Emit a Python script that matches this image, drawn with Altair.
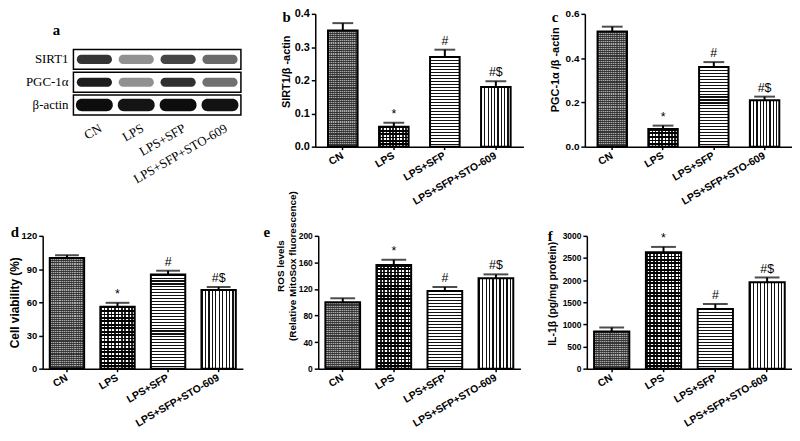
import json
import altair as alt
import pandas as pd

# ---------------- data ----------------
groups = ["CN", "LPS", "LPS+SFP", "LPS+SFP+STO-609"]
sig = ["", "*", "#", "#$"]

sirt1_mean = [0.35, 0.06, 0.27, 0.18]
sirt1_err = [0.022, 0.012, 0.022, 0.017]
pgc_mean = [0.52, 0.08, 0.36, 0.21]
pgc_err = [0.022, 0.015, 0.022, 0.016]
viab_mean = [100, 56, 85, 71]
viab_err = [2.5, 3.5, 3.5, 2.8]
ros_mean = [100, 156, 117, 136]
ros_err = [6, 8, 6, 6]
il_mean = [840, 2630, 1350, 1950]
il_err = [90, 120, 110, 110]

blot_proteins = ["SIRT1", "PGC-1α", "β-actin"]
blot_sirt1 = [0.80, 0.38, 0.72, 0.55]
blot_pgc = [0.92, 0.38, 0.82, 0.52]
blot_actin = [1.00, 0.97, 1.00, 0.98]

SANS = "Liberation Sans"
SERIF = "Liberation Serif"


# ---------------- helpers ----------------
def stripes(n, c_a, c_b, frac, vertical_stripes):
    stops = []
    for i in range(n):
        a0 = i / n
        a1 = (i + frac) / n
        b1 = (i + 1) / n
        stops += [
            {"offset": a0, "color": c_a},
            {"offset": a1, "color": c_a},
            {"offset": a1, "color": c_b},
            {"offset": b1, "color": c_b},
        ]
    g = {"gradient": "linear", "stops": stops}
    if vertical_stripes:
        g.update({"x1": 0, "y1": 0, "x2": 1, "y2": 0})
    else:
        g.update({"x1": 0, "y1": 0, "x2": 0, "y2": 1})
    return g


def bar_fills(idx, h_px, bar_w):
    """return (base_fill, overlay_fill) for category index"""
    nh = max(2, round(h_px / 3.0))
    nv = max(2, round(bar_w / 3.4))
    if idx == 0:
        base = stripes(max(2, round(h_px / 2.2)), "#3c3c3c", "#a8a8a8", 0.5, False)
        over = stripes(round(bar_w / 2.2), "rgba(40,40,40,0.55)", "rgba(0,0,0,0)", 0.5, True)
    elif idx == 1:
        base = stripes(max(2, round(h_px / 3.4)), "#000000", "#ffffff", 0.5, False)
        over = stripes(nv, "rgba(0,0,0,0.85)", "rgba(0,0,0,0)", 0.5, True)
    elif idx == 2:
        base = stripes(nh, "#111111", "#ffffff", 0.38, False)
        over = "transparent"
    else:
        base = stripes(nv, "#111111", "#ffffff", 0.35, True)
        over = "transparent"
    return base, over


def bar_panel(letter, means, errs, ymax, ticks, fmt, title, width, height,
              letter_x, letter_y, title_pad, label_size, title_size, title_y=None,
              pad_inner=0.42, pad_outer=0.25):
    df = pd.DataFrame({
        "group": groups,
        "mean": means,
        "err": errs,
        "sig": sig,
    })
    df["top"] = df["mean"] + df["err"]

    step = width / (4 - pad_inner + 2 * pad_outer)
    bar_w = step * (1 - pad_inner)

    xenc = alt.X(
        "group:N",
        sort=groups,
        scale=alt.Scale(domain=groups, paddingInner=pad_inner, paddingOuter=pad_outer),
        axis=alt.Axis(
            title=None, labelAngle=-30, labelAlign="right", labelBaseline="middle",
            labelPadding=5, tickSize=3, labelFontSize=10.5, labelOverlap=False,
        ),
    )
    ax_kw = dict(
        title=title, values=ticks, format=fmt, grid=False, tickSize=4,
        titlePadding=title_pad, titleFontSize=title_size, labelFontSize=label_size,
        labelPadding=2,
    )
    if title_y is not None:
        ax_kw["titleY"] = title_y
    yaxis = alt.Axis(**ax_kw)
    yscale = alt.Scale(domain=[0, ymax], nice=False, zero=True)

    base = alt.Chart(df).encode(x=xenc)
    layers = []
    for i, g in enumerate(groups):
        h_px = means[i] / ymax * height
        fill_a, fill_b = bar_fills(i, h_px, bar_w)
        sub = base.transform_filter(alt.datum.group == g)
        layers.append(
            sub.mark_bar(fill=fill_a, strokeWidth=0).encode(
                y=alt.Y("mean:Q", scale=yscale, axis=yaxis)
            )
        )
        layers.append(
            sub.mark_bar(fill=fill_b, stroke="black", strokeWidth=2).encode(
                y=alt.Y("mean:Q", scale=yscale, axis=yaxis)
            )
        )
    layers.append(
        base.mark_rule(color="black", strokeWidth=2).encode(
            y=alt.Y("mean:Q", scale=yscale, axis=yaxis), y2="top:Q"
        )
    )
    layers.append(
        base.mark_tick(color="black", thickness=2, size=round(bar_w * 0.7), orient="horizontal").encode(
            y=alt.Y("top:Q", scale=yscale, axis=yaxis)
        )
    )
    layers.append(
        base.transform_filter(alt.datum.sig != "").mark_text(
            font=SANS, fontSize=12.5, baseline="bottom", dy=-2, color="black"
        ).encode(
            y=alt.Y("top:Q", scale=yscale, axis=yaxis), text="sig:N"
        )
    )
    lab = alt.Chart(pd.DataFrame({"t": [letter]})).mark_text(
        font=SERIF, fontWeight="bold", fontSize=15, align="center", baseline="middle"
    ).encode(text="t:N", x=alt.value(letter_x), y=alt.value(letter_y))
    layers.append(lab)
    return alt.layer(*layers).properties(width=width, height=height)


# ---------------- panel a (blot) ----------------
rows = []
for r, (p, vals) in enumerate(zip(blot_proteins, [blot_sirt1, blot_pgc, blot_actin])):
    for l, v in enumerate(vals):
        rows.append({"protein": p, "row": r, "lane": l, "group": groups[l], "intensity": v})
blot = pd.DataFrame(rows)

A_W, A_H = 200, 102
xs_a = alt.Scale(domain=[-1.234, 3.5], nice=False, zero=False)
ys_a = alt.Scale(domain=[-2.0, 2.435], nice=False, zero=False, reverse=True)
label_expr = json.dumps(groups) + "[datum.value]"

a_base = alt.Chart(blot)
boxes = a_base.transform_aggregate(
    lo="min(lane)", hi="max(lane)", groupby=["row", "protein"]
).transform_calculate(
    x0="datum.lo - 0.5", x1="datum.hi + 0.5", y0="datum.row - 0.435", y1="datum.row + 0.435"
)
box_layer = boxes.mark_rect(fill="white", stroke="black", strokeWidth=1.5).encode(
    x=alt.X("x0:Q", scale=xs_a,
            axis=alt.Axis(values=[0, 1, 2, 3], labelExpr=label_expr, title=None, domain=False,
                          ticks=False, grid=False, labelAngle=-30, labelAlign="right",
                          labelBaseline="middle", labelFont=SERIF, labelFontWeight="normal",
                          labelFontSize=13, labelPadding=12, labelOffset=6,
                          labelOverlap=False, labelBound=False)),
    x2="x1:Q",
    y=alt.Y("y0:Q", scale=ys_a, axis=None),
    y2="y1:Q",
)
row_labels = boxes.mark_text(font=SERIF, fontSize=13, align="right", baseline="middle", dx=-5).encode(
    x=alt.X("x0:Q", scale=xs_a), y=alt.Y("row:Q", scale=ys_a), text="protein:N"
)
bands = a_base.transform_calculate(
    hh="datum.row == 2 ? 0.27 : 0.2",
    hw="datum.row == 2 ? 0.44 : 0.42",
).transform_calculate(
    bx0="datum.lane - datum.hw", bx1="datum.lane + datum.hw",
    by0="datum.row - datum.hh", by1="datum.row + datum.hh",
).mark_rect(cornerRadius=6).encode(
    x=alt.X("bx0:Q", scale=xs_a), x2="bx1:Q",
    y=alt.Y("by0:Q", scale=ys_a), y2="by1:Q",
    color=alt.Color("intensity:Q", scale=alt.Scale(domain=[0, 1], range=["#f0f0f0", "#0d0d0d"]), legend=None),
)
a_letter = alt.Chart(pd.DataFrame({"t": ["a"]})).mark_text(
    font=SERIF, fontWeight="bold", fontSize=15
).encode(text="t:N", x=alt.value(14), y=alt.value(16))
panel_a = alt.layer(box_layer, bands, row_labels, a_letter).properties(width=A_W, height=A_H)

# ---------------- bar panels ----------------
panel_b = bar_panel("b", sirt1_mean, sirt1_err, 0.4, [0, 0.1, 0.2, 0.3, 0.4], ".1f",
                    "SIRT1/β -actin", 210, 134, -29, 3, 3, 11, 11, 58)
panel_c = bar_panel("c", pgc_mean, pgc_err, 0.6, [0, 0.2, 0.4, 0.6], ".1f",
                    "PGC-1α /β -actin", 209, 134, -30, 3, 4.5, 10, 11, 56)
panel_d = bar_panel("d", viab_mean, viab_err, 120, [0, 30, 60, 90, 120], "d",
                    "Cell viability (%)", 202, 134, -28, -4, 0, 9.5, 12,
                    None, 0.32, 0.14)
panel_e = bar_panel("e", ros_mean, ros_err, 200, [0, 40, 80, 120, 160, 200], "d",
                    ["ROS levels", "(Relative MitoSox fluorescence)"], 204, 134, -52, -4, 1,
                    8.5, 10, 30, 0.32, 0.14)
panel_f = bar_panel("f", il_mean, il_err, 3000, [0, 500, 1000, 1500, 2000, 2500, 3000], "d",
                    "IL-1β  (pg/mg protein)", 207, 134, -37, 0, 4.5, 8.5, 10.5, 58, 0.32, 0.14)

top = alt.hconcat(
    panel_a,
    alt.hconcat(panel_b, panel_c, spacing=62, bounds="flush"),
    spacing=75, bounds="flush",
)
bottom = alt.hconcat(
    panel_d,
    alt.hconcat(panel_e, panel_f, spacing=67, bounds="flush"),
    spacing=76, bounds="flush",
)

chart = alt.vconcat(top, bottom, spacing=224, bounds="flush").properties(
    padding={"top": -2, "left": 0, "right": 0, "bottom": 0}, background="white"
).configure_view(stroke=None).configure_axis(
    labelFont=SANS, labelFontWeight="bold", labelColor="black",
    titleFont=SANS, titleFontWeight="bold", titleColor="black",
    domainColor="black", tickColor="black", domainWidth=1.5, tickWidth=1.5,
)

chart.save("out.html", embed_options={"renderer": "svg", "actions": False})
